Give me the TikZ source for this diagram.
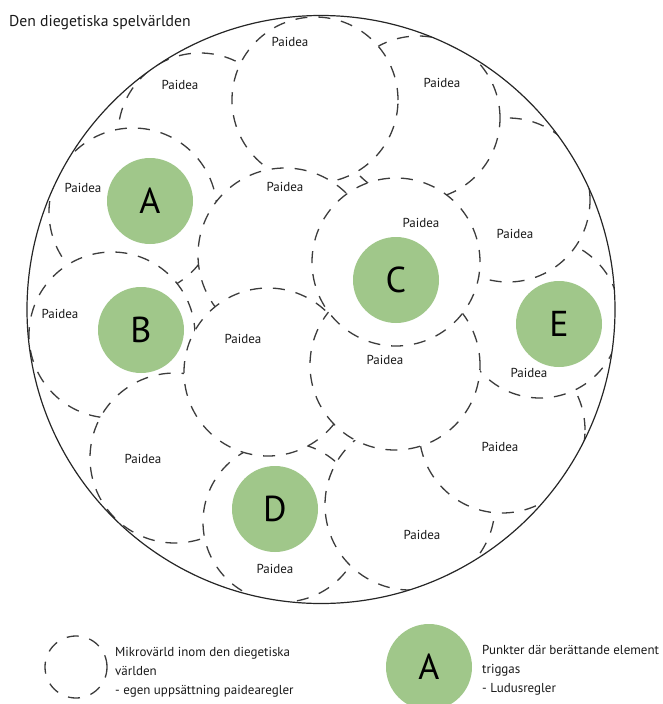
\documentclass[tikz,border=0pt]{standalone}
\usepackage{fontspec}
\setmainfont{PT Sans}
\definecolor{ludus}{RGB}{160,199,138}
\definecolor{dashgray}{RGB}{60,60,60}
\tikzset{
  micro/.style={circle, draw=dashgray, line width=1.3pt, dash pattern=on 12pt off 11pt,
                fill=white, inner sep=0pt, minimum size=#1},
  world/.style={circle, draw=black!85, line width=1.2pt, inner sep=0pt, minimum size=588pt},
  ludpoint/.style={circle, fill=ludus, inner sep=0pt, minimum size=86pt,
                   font=\fontsize{36}{36}\selectfont},
  paidea/.style={font=\fontsize{13}{14}\selectfont, inner sep=0pt, text=black!90},
  legendtext/.style={font=\fontsize{13}{18.6}\selectfont, inner sep=0pt, align=left,
                     anchor=base west, text=black!90},
}
\begin{document}
\begin{tikzpicture}[x=1pt,y=-1pt]
\useasboundingbox (0,0) rectangle (663,704);

% title
\node[font=\fontsize{15.7}{18}\selectfont, anchor=base west, inner sep=0pt, text=black!90]
  (title) at (9,27) {Den diegetiska spelvärlden};

% microworlds, stacked so that later ones cover earlier ones
\begin{scope}
  \clip (321,309.5) circle[radius=294pt];
  \node[micro=164pt] (m3)  at (200,135) {};
  \node[micro=168pt] (m4)  at (133,212) {};
  \node[micro=166pt] (m8)  at (112,335) {};
  \node[micro=170pt] (m12) at (175,458) {};
  \node[micro=160pt] (m13) at (283,522) {};
  \node[micro=170pt] (m14) at (410,505) {};
  \node[micro=166pt] (m15) at (502,430) {};
  \node[micro=160pt] (m11) at (540,318) {};
  \node[micro=164pt] (m7)  at (508,200) {};
  \node[micro=164pt] (m2)  at (418,118) {};
  \node[micro=166pt] (m1)  at (315,100) {};
  \node[micro=174pt] (m5)  at (285,255) {};
  \node[micro=168pt] (m9)  at (268,372) {};
  \node[micro=170pt] (m10) at (395,365) {};
  \node[micro=168pt] (m6)  at (396,262) {};
\end{scope}

% the diegetic world
\node[world] (world) at (321,309.5) {};

% narrative trigger points
\node[ludpoint] (pa) at (150,201) {A};
\node[ludpoint] (pb) at (141,330) {B};
\node[ludpoint] (pc) at (396,280) {C};
\node[ludpoint] (pd) at (275,509) {D};
\node[ludpoint] (pe) at (559,324) {E};

% labels of the microworlds
\node[paidea] (l1)  at (290,42)  {Paidea};
\node[paidea] (l2)  at (442,83)  {Paidea};
\node[paidea] (l3)  at (180,85)  {Paidea};
\node[paidea] (l4)  at (83,188)  {Paidea};
\node[paidea] (l5)  at (285,187) {Paidea};
\node[paidea] (l6)  at (421,223) {Paidea};
\node[paidea] (l7)  at (515,234) {Paidea};
\node[paidea] (l8)  at (60,314)  {Paidea};
\node[paidea] (l9)  at (243,339) {Paidea};
\node[paidea] (l10) at (385,360) {Paidea};
\node[paidea] (l11) at (529,373) {Paidea};
\node[paidea] (l12) at (143,459) {Paidea};
\node[paidea] (l13) at (275,569) {Paidea};
\node[paidea] (l14) at (422,535) {Paidea};
\node[paidea] (l15) at (500,447) {Paidea};

% legend (the base anchor of a multi-line node sits on its last line)
\node[micro=62pt] (keymicro) at (76,667) {};
\node[legendtext] (keymicrotext) at (115,694)
  {Mikrovärld inom den diegetiska\\världen\\- egen uppsättning paidearegler};
\node[ludpoint] (keypoint) at (429,667) {A};
\node[legendtext] (keypointtext) at (482,692)
  {Punkter där berättande element\\triggas\\- Ludusregler};
\end{tikzpicture}
\end{document}
